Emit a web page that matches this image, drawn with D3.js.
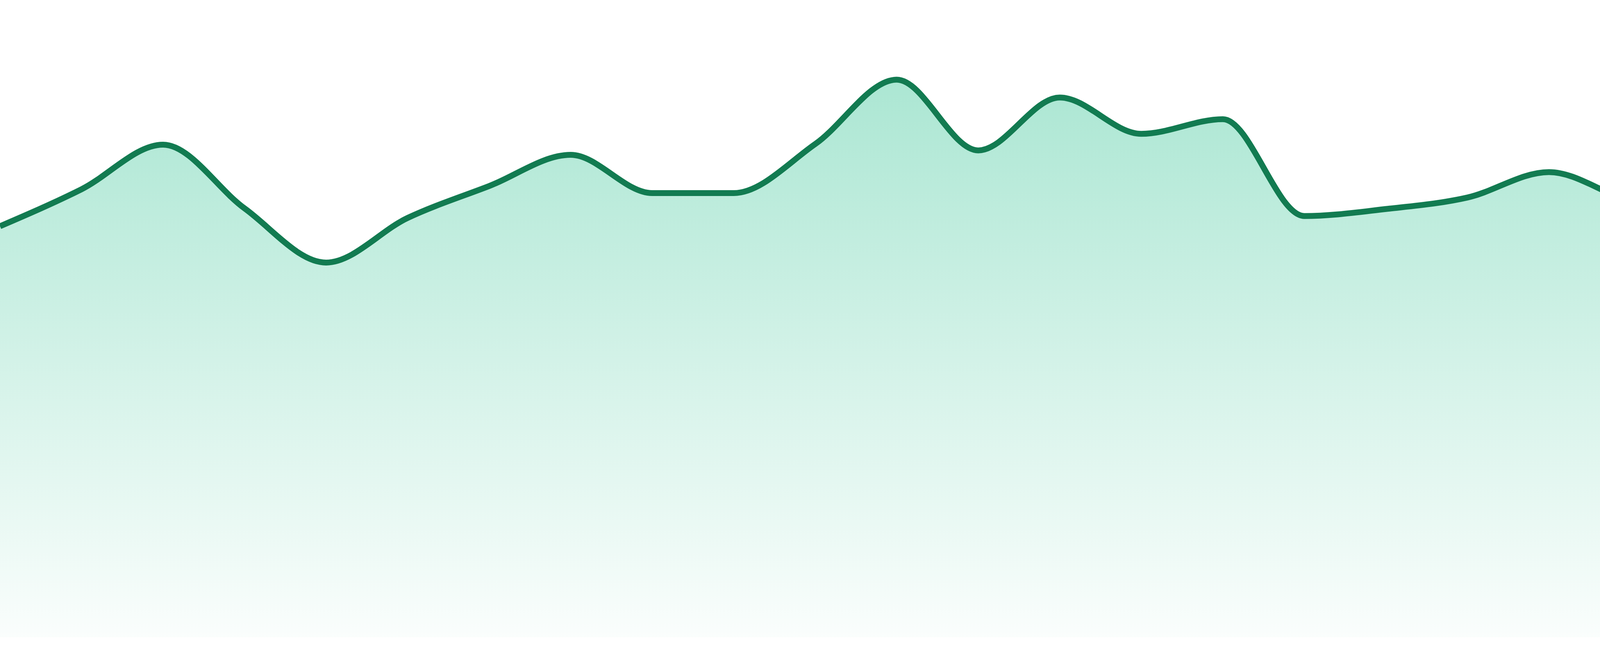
<!DOCTYPE html>
<html>
<head>
<meta charset="utf-8">
<style>
  html, body { margin: 0; padding: 0; background: #fff; }
  svg { display: block; }
</style>
</head>
<body>
<svg width="4800" height="1680"></svg>
<script src="https://d3js.org/d3.v7.min.js"></script>
<script>

// hourly points, 24 of them
var hours = ["00:00","01:00","02:00","03:00","04:00","05:00","06:00","07:00",
             "08:00","09:00","10:00","11:00","12:00","13:00","14:00","15:00",
             "16:00","17:00","18:00","19:00","20:00","21:00","22:00","23:00"];

var values = [64.5, 70.3, 77.3, 67.3, 58.8, 65.8, 70.8, 75.7,
              69.7, 69.7, 77.4, 87.5, 76.4, 84.7, 79.0, 81.3,
              66.1, 67.2, 69.0, 73.0, 68.5, 66.8, 68.6, 65.4];

var yDomain = [0, 100];

var svg = d3.select("svg"),
    width = +svg.attr("width"),
    height = +svg.attr("height"),
    baseline = 1632;

var data = hours.map(function(h, i) { return {hour: h, value: values[i]}; });

var x = d3.scalePoint()
    .domain(hours)
    .range([0, width]);

var y = d3.scaleLinear()
    .domain(yDomain)
    .range([baseline, 0]);

var defs = svg.append("defs");
var grad = defs.append("linearGradient")
    .attr("id", "fillGrad")
    .attr("x1", 0).attr("y1", 0)
    .attr("x2", 0).attr("y2", 1);
grad.append("stop").attr("offset", "0%")
    .attr("stop-color", "#10b981").attr("stop-opacity", 0.35);
grad.append("stop").attr("offset", "100%")
    .attr("stop-color", "#10b981").attr("stop-opacity", 0.02);

var area = d3.area()
    .x(function(d) { return x(d.hour); })
    .y0(y(0))
    .y1(function(d) { return y(d.value); })
    .curve(d3.curveMonotoneX);

var line = d3.line()
    .x(function(d) { return x(d.hour); })
    .y(function(d) { return y(d.value); })
    .curve(d3.curveMonotoneX);

svg.append("path")
    .datum(data)
    .attr("fill", "url(#fillGrad)")
    .attr("d", area);

svg.append("path")
    .datum(data)
    .attr("fill", "none")
    .attr("stroke", "#127b51")
    .attr("stroke-width", 15)
    .attr("stroke-linejoin", "round")
    .attr("d", line);

</script>
</body>
</html>
